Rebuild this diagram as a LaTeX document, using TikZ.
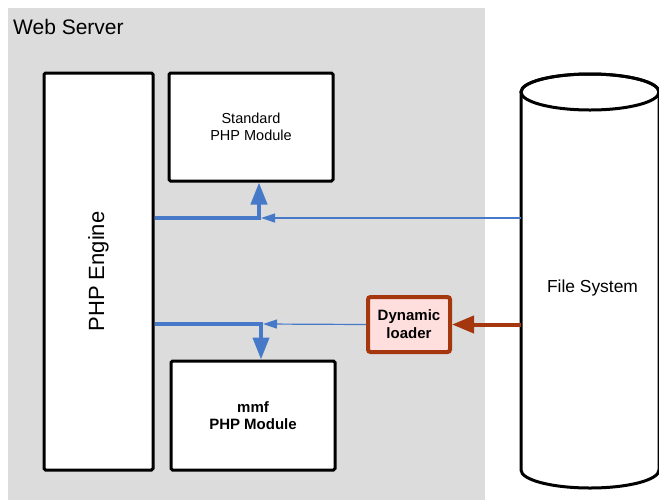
\documentclass[tikz,border=0pt]{standalone}
\usepackage{fontspec}
\setmainfont{Liberation Sans}
\usetikzlibrary{arrows.meta}
\definecolor{srvgray}{RGB}{220,220,220}
\definecolor{linkblue}{RGB}{70,122,200}
\definecolor{loadbrown}{RGB}{165,55,15}
\definecolor{loadpink}{RGB}{255,222,222}
\tikzset{
  modbox/.style={draw=black, line width=3pt, fill=white, rounded corners=1.5pt,
    inner sep=0pt, align=center},
  loaderbox/.style={draw=loadbrown, line width=4pt, fill=loadpink, rounded corners=2.5pt,
    inner sep=0pt, align=center, font=\fontsize{15}{18}\selectfont\bfseries},
  bluethick/.style={draw=linkblue, line width=4pt,
    -{Triangle[width=16pt,length=22pt]}},
  bluethin/.style={draw=linkblue, line width=1.2pt,
    -{Triangle[width=9pt,length=14pt]}},
  brownlink/.style={draw=loadbrown, line width=4pt,
    -{Triangle[width=17pt,length=22pt]}},
}
\begin{document}
\begin{tikzpicture}[x=1pt, y=-1pt]
\useasboundingbox (0,0) rectangle (659,499);
\fill[white] (0,0) rectangle (659,499);
\clip (0,0) rectangle (659,499);

% web server area
\fill[srvgray] (8,8) rectangle (485,505);
\node[anchor=base west, inner sep=0pt, font=\fontsize{21}{25}\selectfont] (ws) at (13,34) {Web Server};

% modules and engine
\node[modbox, minimum width=109pt, minimum height=397pt] (engine) at (98.5,271.5) {};
\node[rotate=90, inner sep=0pt, font=\fontsize{22}{26}\selectfont] (enginelbl) at (engine.center) {PHP Engine};
\node[modbox, minimum width=164pt, minimum height=108pt,
  font=\fontsize{14.5}{17}\selectfont] (std) at (251,127) {Standard\\PHP Module};
\node[modbox, minimum width=164pt, minimum height=109pt,
  font=\fontsize{15}{17}\selectfont\bfseries] (mmf) at (253,415.5) {mmf\\PHP Module};
\node[loaderbox, minimum width=82pt, minimum height=55pt] (loader) at (409,324.5) {Dynamic\\loader};

% file system cylinder (y grows downward here, so angle 90 is the lower side)
\draw[line width=3pt, fill=white] (521,92) -- (521,470)
  arc[start angle=180, end angle=0, x radius=69, y radius=18]
  -- (659,92) arc[start angle=0, end angle=-180, x radius=69, y radius=18] -- cycle;
\draw[line width=3pt] (590,92) ellipse[x radius=69, y radius=18];
\coordinate (fs) at (521,288);
\node[inner sep=0pt, font=\fontsize{17.4}{20}\selectfont] (fslbl) at (592.5,288) {File System};

% connectors
\coordinate (up) at (259,218);
\coordinate (dn) at (261,324);
\draw[bluethick] (engine.east |- up) -| (std.south -| up);
\draw[bluethin] (fs |- up) -- ([xshift=2pt]up);
\draw[bluethick] (engine.east |- dn) -| (mmf.north -| dn);
\draw[bluethin] (loader.west) -- ([xshift=2pt]dn);
\draw[brownlink] (fs |- loader) -- (loader.east);
\end{tikzpicture}
\end{document}
